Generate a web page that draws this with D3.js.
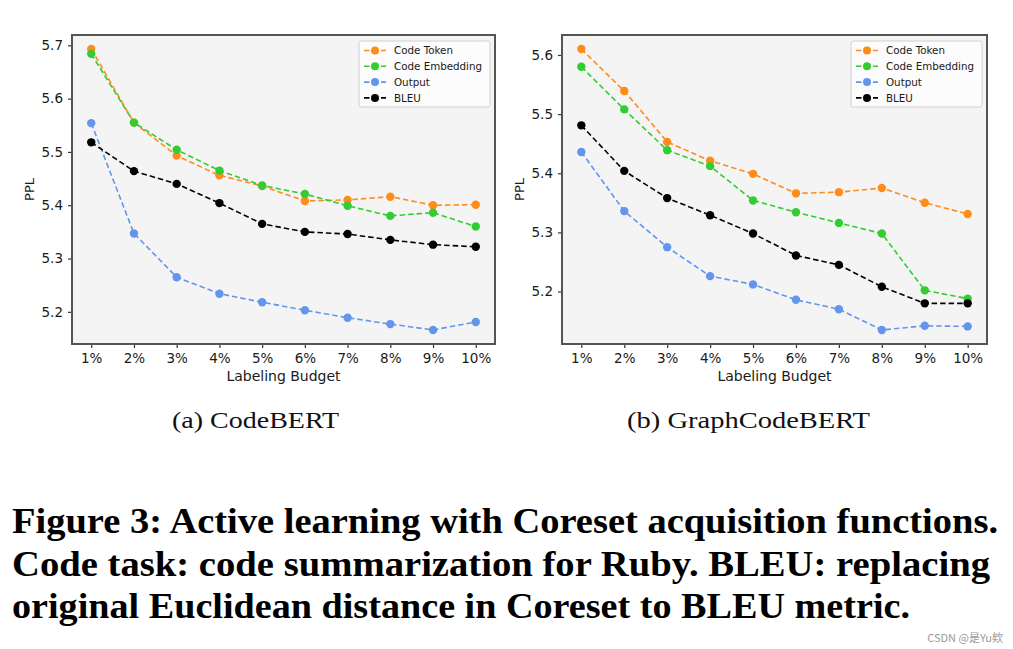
<!DOCTYPE html>
<html><head><meta charset="utf-8">
<script src="https://cdn.jsdelivr.net/npm/d3@7"></script>
<style>
html,body{margin:0;padding:0;background:#fff;}
svg{display:block;}
</style></head>
<body>
<svg id="chart" width="1013" height="649"></svg>
<script>
// ---- data ----
const budgets = ["1%","2%","3%","4%","5%","6%","7%","8%","9%","10%"];
const seriesNames = ["Code Token","Code Embedding","Output","BLEU"];
const seriesColors = ["#ff8c1a","#33cc33","#6495ed","#000000"];

// (a) CodeBERT
const codebertToken     = [5.693,5.555,5.493,5.456,5.436,5.408,5.410,5.416,5.400,5.401];
const codebertEmbedding = [5.684,5.555,5.504,5.465,5.437,5.421,5.399,5.380,5.386,5.360];
const codebertOutput    = [5.554,5.347,5.265,5.234,5.218,5.203,5.189,5.177,5.166,5.181];
const codebertBleu      = [5.518,5.464,5.440,5.404,5.365,5.350,5.346,5.335,5.326,5.322];
const codebertYTicks    = [5.2,5.3,5.4,5.5,5.6,5.7];

// (b) GraphCodeBERT
const graphToken     = [5.610,5.539,5.453,5.421,5.399,5.366,5.368,5.375,5.350,5.331];
const graphEmbedding = [5.580,5.508,5.439,5.412,5.354,5.334,5.316,5.298,5.202,5.188];
const graphOutput    = [5.436,5.336,5.275,5.226,5.212,5.186,5.170,5.135,5.142,5.141];
const graphBleu      = [5.481,5.404,5.358,5.329,5.298,5.261,5.245,5.208,5.180,5.180];
const graphYTicks    = [5.2,5.3,5.4,5.5,5.6];

const subCaptions = ["(a)  CodeBERT","(b)  GraphCodeBERT"];
const xLabel = "Labeling Budget";
const yLabel = "PPL";
const captionLines = [
  "Figure 3: Active learning with Coreset acquisition functions.",
  "Code task: code summarization for Ruby. BLEU: replacing",
  "original Euclidean distance in Coreset to BLEU metric."
];
const watermark = "CSDN @是Yu欸";

// ---- drawing ----
const svg = d3.select("#chart");
const FONT = "'DejaVu Sans', sans-serif";

function drawPanel(cfg){
  const {x0,x1,y0,y1,series,yTicks,caption,capX,capW} = cfg;
  const g = svg.append("g");
  const all = series.flat();
  const mn = d3.min(all), mx = d3.max(all), pad = (mx-mn)*0.05;
  const x = d3.scaleLinear().domain([0.55,10.45]).range([x0,x1]);
  const y = d3.scaleLinear().domain([mn-pad,mx+pad]).range([y1,y0]);

  g.append("rect").attr("x",x0).attr("y",y0).attr("width",x1-x0).attr("height",y1-y0)
    .attr("fill","#f4f4f4");

  const xa = g.append("g").attr("transform",`translate(0,${y1})`)
    .call(d3.axisBottom(x).tickValues(d3.range(1,11)).tickFormat(i=>budgets[i-1]).tickSize(4).tickPadding(5));
  const ya = g.append("g").attr("transform",`translate(${x0},0)`)
    .call(d3.axisLeft(y).tickValues(yTicks).tickFormat(d3.format(".1f")).tickSize(4).tickPadding(5));
  [xa,ya].forEach(a=>{
    a.select(".domain").remove();
    a.selectAll(".tick line").attr("stroke","#333").attr("stroke-width",1.2);
    a.selectAll(".tick text").attr("fill","#1a1a1a").style("font-family",FONT).style("font-size","13.5px");
  });

  const line = d3.line().x((d,i)=>x(i+1)).y(d=>y(d));
  series.forEach((s,k)=>{
    g.append("path").datum(s).attr("d",line).attr("fill","none")
      .attr("stroke",seriesColors[k]).attr("stroke-width",1.6).attr("stroke-dasharray","5.5,3");
    g.selectAll(null).data(s).enter().append("circle")
      .attr("cx",(d,i)=>x(i+1)).attr("cy",d=>y(d)).attr("r",4.2).attr("fill",seriesColors[k]);
  });

  g.append("rect").attr("x",x0).attr("y",y0).attr("width",x1-x0).attr("height",y1-y0)
    .attr("fill","none").attr("stroke","#555").attr("stroke-width",2);

  // legend
  const lw = 131, lh = 66, lx = x1-5-lw, ly = y0+6;
  const lg = g.append("g");
  lg.append("rect").attr("x",lx).attr("y",ly).attr("width",lw).attr("height",lh)
    .attr("rx",2.5).attr("fill","#fcfcfc").attr("stroke","#d0d0d0").attr("stroke-width",1);
  seriesNames.forEach((n,k)=>{
    const ry = ly + 9.5 + k*15.8;
    lg.append("line").attr("x1",lx+5).attr("x2",lx+27).attr("y1",ry).attr("y2",ry)
      .attr("stroke",seriesColors[k]).attr("stroke-width",1.6).attr("stroke-dasharray","5.5,3");
    lg.append("circle").attr("cx",lx+16).attr("cy",ry).attr("r",4).attr("fill",seriesColors[k]);
    lg.append("text").attr("x",lx+35).attr("y",ry+3.6).text(n)
      .style("font-family",FONT).style("font-size","10.3px").attr("fill","#1a1a1a");
  });

  // axis labels
  g.append("text").attr("x",(x0+x1)/2).attr("y",381).attr("text-anchor","middle").text(xLabel)
    .style("font-family",FONT).style("font-size","14px").attr("fill","#1a1a1a");
  g.append("text").attr("transform",`translate(${x0-38},${(y0+y1)/2}) rotate(-90)`)
    .attr("text-anchor","middle").text(yLabel)
    .style("font-family",FONT).style("font-size","13px").attr("fill","#1a1a1a");

  // sub caption
  svg.append("text").attr("x",capX).attr("y",428).text(caption)
    .attr("textLength",capW).attr("lengthAdjust","spacingAndGlyphs")
    .style("font-family","'Liberation Serif', 'DejaVu Serif', serif").style("font-size","24px").attr("fill","#111");
}

drawPanel({x0:72,x1:495,y0:35,y1:344,
  series:[codebertToken,codebertEmbedding,codebertOutput,codebertBleu],
  yTicks:codebertYTicks, caption:subCaptions[0], capX:172, capW:167});
drawPanel({x0:562,x1:987,y0:35,y1:344,
  series:[graphToken,graphEmbedding,graphOutput,graphBleu],
  yTicks:graphYTicks, caption:subCaptions[1], capX:627, capW:243});

const capWidths = [986, 978, 898];
const capBase = [533, 576, 618];
captionLines.forEach((t,i)=>{
  svg.append("text").attr("x",12).attr("y",capBase[i]).text(t)
    .attr("textLength",capWidths[i]).attr("lengthAdjust","spacingAndGlyphs")
    .style("font-family","'Liberation Serif', 'DejaVu Serif', serif").style("font-weight","bold")
    .style("font-size","35px").attr("fill","#000");
});

svg.append("text").attr("x",1003).attr("y",642).attr("text-anchor","end").text(watermark)
  .style("font-family","'Noto Sans CJK SC', sans-serif").style("font-size","11px").attr("fill","#999");
</script>
</body></html>
